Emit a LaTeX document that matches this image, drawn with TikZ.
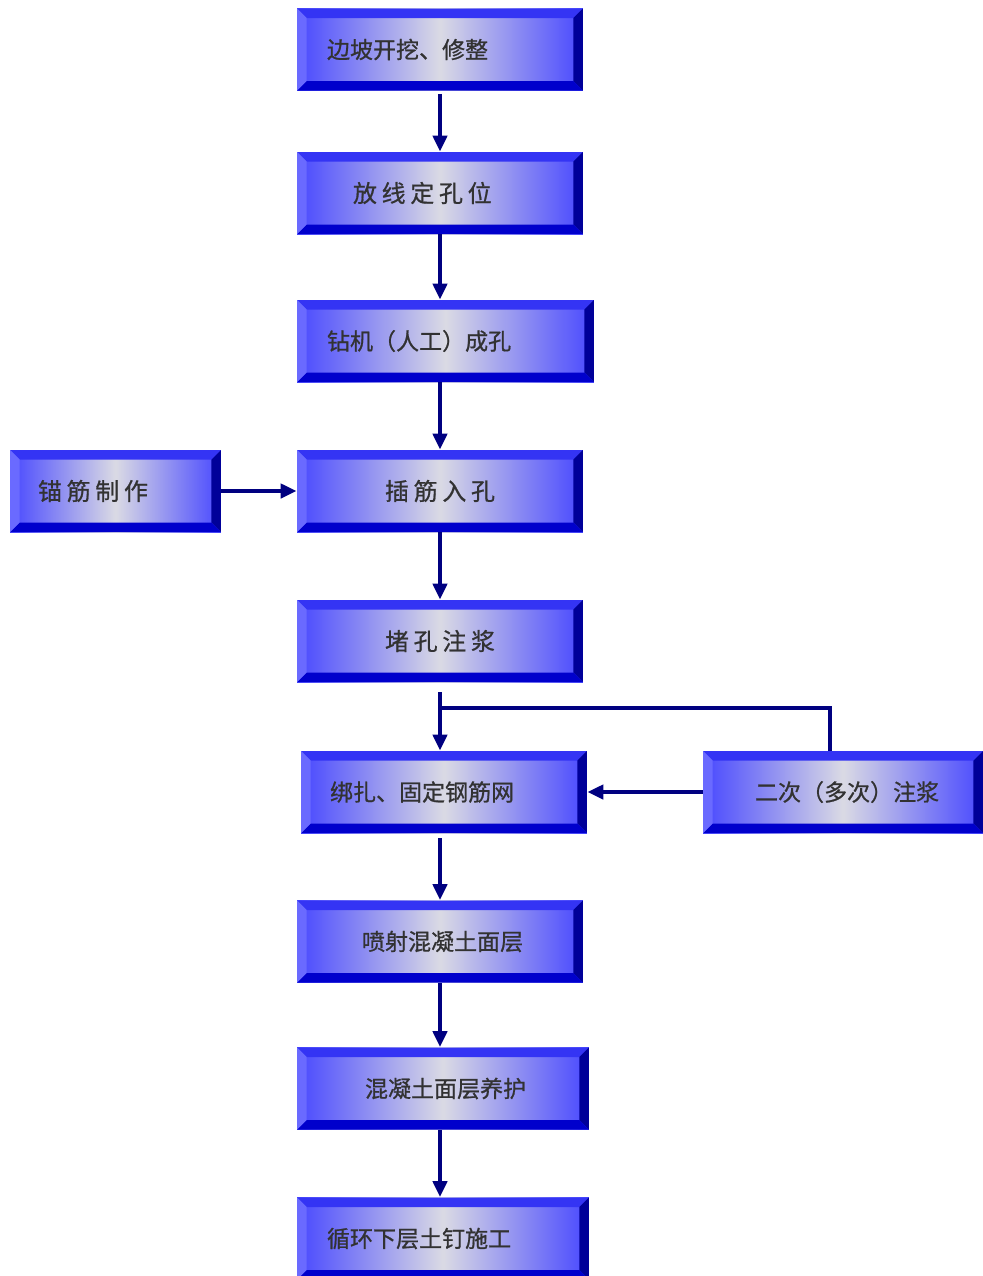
\documentclass[tikz,border=0pt]{standalone}
\usepackage{fontspec}
\newfontfamily\cjk[FakeBold=0.8]{Noto Sans CJK SC}
\newfontfamily\cjkwide[LetterSpace=20,FakeBold=0.8]{Noto Sans CJK SC}
\usepackage{xcolor}
\usetikzlibrary{positioning,arrows.meta}
\definecolor{bvtop}{RGB}{52,52,244}
\definecolor{bvleft}{RGB}{106,106,255}
\definecolor{bvright}{RGB}{0,0,153}
\definecolor{bvbot}{RGB}{0,0,204}
\definecolor{bvface}{RGB}{72,72,255}
\definecolor{bvlight}{RGB}{218,218,228}
\definecolor{txtgray}{RGB}{50,50,50}
\definecolor{flowblue}{RGB}{0,0,128}
\newcommand\bvd{0.19cm}

\begin{document}
\begin{tikzpicture}[x=0.02cm,y=-0.02cm]
  \tikzset{ bevelbox/.style={rectangle,inner sep=0pt,minimum height=1.64cm,
      left color=bvface,right color=bvface,middle color=bvlight,
      path picture={
        \path (path picture bounding box.north west) coordinate (pnw)
              (path picture bounding box.north east) coordinate (pne)
              (path picture bounding box.south east) coordinate (pse)
              (path picture bounding box.south west) coordinate (psw);
        \fill[bvtop] (pnw) -- (pne) -- ([shift={(-\bvd,-\bvd)}]pne) -- ([shift={(\bvd,-\bvd)}]pnw) -- cycle;
        \fill[bvright] (pne) -- (pse) -- ([shift={(-\bvd,\bvd)}]pse) -- ([shift={(-\bvd,-\bvd)}]pne) -- cycle;
        \fill[bvbot] (pse) -- (psw) -- ([shift={(\bvd,\bvd)}]psw) -- ([shift={(-\bvd,\bvd)}]pse) -- cycle;
        \fill[bvleft] (psw) -- (pnw) -- ([shift={(\bvd,-\bvd)}]pnw) -- ([shift={(\bvd,\bvd)}]psw) -- cycle;
      }},
    boxtext/.style={text=txtgray,inner sep=0pt,font=\cjk\fontsize{13.1}{16}\selectfont},
    boxwide/.style={boxtext,font=\cjkwide\fontsize{13.6}{16}\selectfont},
    flow/.style={draw=flowblue,line width=2.8pt,-{Triangle[length=0.32cm,width=0.28cm]}},
    flowline/.style={draw=flowblue,line width=2.3pt},
  }
  \useasboundingbox (0,0) rectangle (983,1276);

  % the boxes
  \node[bevelbox,minimum width=5.72cm] (b1) at (440,49.5) {};
  \node[bevelbox,minimum width=5.72cm] (b2) at (440,193) {};
  \node[bevelbox,minimum width=5.94cm] (b3) at (445.5,341) {};
  \node[bevelbox,minimum width=4.22cm] (b4) at (115.5,491) {};
  \node[bevelbox,minimum width=5.72cm] (b5) at (440,491) {};
  \node[bevelbox,minimum width=5.72cm] (b6) at (440,641) {};
  \node[bevelbox,minimum width=5.72cm] (b7) at (444,792) {};
  \node[bevelbox,minimum width=5.60cm] (b8) at (843,792) {};
  \node[bevelbox,minimum width=5.72cm] (b9) at (440,941.5) {};
  \node[bevelbox,minimum width=5.84cm] (b10) at (443,1088.5) {};
  \node[bevelbox,minimum width=5.84cm] (b11) at (443,1238.5) {};

  % the texts
  \node[boxtext,right=0.6cm of b1.west] (t1) {边坡开挖、修整};
  \node[boxwide,right=1.12cm of b2.west] (t2) {放线定孔位};
  \node[boxtext,right=0.6cm of b3.west] (t3) {钻机（人工）成孔};
  \node[boxwide,right=0.56cm of b4.west] (t4) {锚筋制作};
  \node[boxwide,right=1.76cm of b5.west] (t5) {插筋入孔};
  \node[boxwide,right=1.76cm of b6.west] (t6) {堵孔注浆};
  \node[boxtext,right=0.58cm of b7.west] (t7) {绑扎、固定钢筋网};
  \node[boxtext,right=1.04cm of b8.west] (t8) {二次（多次）注浆};
  \node[boxtext,right=1.3cm of b9.west] (t9) {喷射混凝土面层};
  \node[boxtext,right=1.36cm of b10.west] (t10) {混凝土面层养护};
  \node[boxtext,right=0.6cm of b11.west] (t11) {循环下层土钉施工};

  % the connection between the boxes
  \draw[flow] ([yshift=-0.06cm]b1.south) -- (b2.north);
  \draw[flow] (b2.south) -- (b2.south |- b3.north);
  \draw[flow] (b5.north |- b3.south) -- (b5.north);
  \draw[flow] (b4.east) -- (b5.west);
  \draw[flow] (b5.south) -- (b6.north);
  \coordinate (j) at ([yshift=-0.52cm]b6.south);
  \draw[flowline] ([xshift=-0.26cm]b8.north) |- (j);
  \draw[flow] ([yshift=-0.2cm]b6.south) -- (b6.south |- b7.north);
  \draw[flow] (b8.west) -- (b7.east);
  \draw[flow] ([yshift=-0.1cm]b9.north |- b7.south) -- (b9.north);
  \draw[flow] (b9.south) -- (b9.south |- b10.north);
  \draw[flow] ([xshift=-0.06cm]b10.south) -- ([xshift=-0.06cm]b11.north);
\end{tikzpicture}
\end{document}
